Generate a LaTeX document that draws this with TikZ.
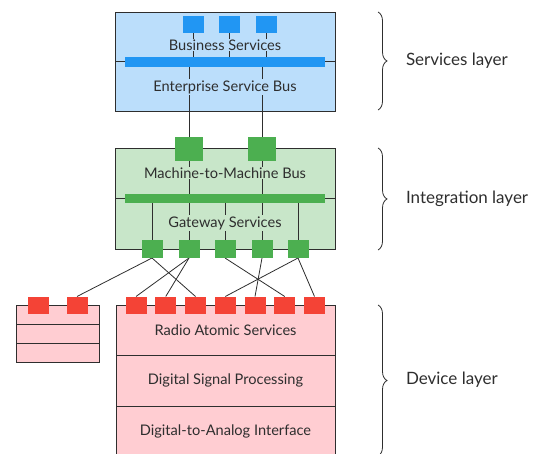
\documentclass[tikz,border=0pt]{standalone}
\usepackage{fontspec}
\setmainfont{Lato}
\usetikzlibrary{positioning,decorations.pathreplacing}
\pgfdeclarelayer{bg}
\pgfdeclarelayer{wires}
\pgfsetlayers{bg,wires,main}
\definecolor{svcfill}{HTML}{BBDEFB}
\definecolor{svcsq}{HTML}{2196F3}
\definecolor{intfill}{HTML}{C8E6C9}
\definecolor{intsq}{HTML}{4CAF50}
\definecolor{devfill}{HTML}{FFCDD2}
\definecolor{devsq}{HTML}{F44336}
\definecolor{ink}{HTML}{2E2E2E}
\tikzset{
    every node/.style={inner sep=0pt, outer sep=0pt, text=ink, font=\fontsize{14.6}{17}\selectfont},
    layer/.style={rectangle, draw=ink, line width=0.9pt},
    port/.style={rectangle, draw=none, minimum width=21pt, minimum height=17pt},
    bigport/.style={rectangle, draw=none, minimum width=28pt, minimum height=24pt},
    bus/.style={rectangle, draw=none, minimum width=200pt, minimum height=10pt},
    boxtext/.style={fill=#1, inner sep=1pt},
    wire/.style={draw=ink, line width=0.8pt},
    tier/.style={anchor=west, font=\fontsize{17}{20}\selectfont},
    curly/.style={draw=ink, line width=0.8pt, decorate, decoration={brace, amplitude=9pt}}
}
\begin{document}
\begin{tikzpicture}[x=1pt, y=-1pt]
  \useasboundingbox (0,0) rectangle (548,454);

  % the three layers
  \begin{pgfonlayer}{bg}
    \node (svc) [layer, fill=svcfill, minimum width=220pt, minimum height=99pt] at (225,61.5) {};
    \draw [wire] (svc.west) -- (svc.east);
    \node (int) [layer, fill=intfill, minimum width=220pt, minimum height=101pt] at (225,198.5) {};
    \draw [wire] (int.west) -- (int.east);
    \node (aux1) [layer, fill=devfill, minimum width=83pt, minimum height=19pt] at (57.5,314.5) {};
    \node (aux2) [layer, fill=devfill, minimum width=83pt, minimum height=19pt, below=0pt of aux1] {};
    \node (aux3) [layer, fill=devfill, minimum width=83pt, minimum height=19pt, below=0pt of aux2] {};
  \end{pgfonlayer}
  \node (ras) [layer, fill=devfill, minimum width=219pt, minimum height=50.5pt] at (225.5,330.25) {Radio Atomic Services};
  \node (dsp) [layer, fill=devfill, minimum width=219pt, minimum height=50.5pt, below=0pt of ras] {Digital Signal Processing};
  \node (dai) [layer, fill=devfill, minimum width=219pt, minimum height=50.5pt, below=0pt of dsp] {Digital-to-Analog Interface};

  % services
  \node (bsvc) [boxtext=svcfill] at (225,45) {Business Services};
  \node (esbt) [boxtext=svcfill] at (225,87) {Enterprise Service Bus};
  \node (esb) [bus, fill=svcsq] at (225,62) {};
  \foreach \x [count=\i] in {193,229.5,266}
    \node (bsq\i) [port, fill=svcsq] at (\x,24.5) {};

  % integration
  \node (m2mt) [boxtext=intfill] at (225,173) {Machine-to-Machine Bus};
  \node (gwt) [boxtext=intfill] at (225,223) {Gateway Services};
  \node (m2m) [bus, fill=intsq, minimum height=9pt] at (225,198.5) {};
  \node (msq1) [bigport, fill=intsq] at (189,149) {};
  \node (msq2) [bigport, fill=intsq] at (262,149) {};
  \foreach \x [count=\i] in {152,189,225,262,298}
    \node (gsq\i) [port, fill=intsq, minimum height=18pt] at (\x,249) {};

  % device
  \node (asq1) [port, fill=devsq] at (38.5,305) {};
  \node (asq2) [port, fill=devsq] at (77,305) {};
  \foreach \x [count=\i] in {136,165.75,195.5,225.25,255,284.75,314.5}
    \node (rsq\i) [port, fill=devsq] at (\x,305) {};

  % wires
  \begin{pgfonlayer}{wires}
    \foreach \i in {1,2,3}
      \draw [wire] (bsq\i) -- (bsq\i |- esb);
    \foreach \i in {1,2} {
      \draw [wire] (msq\i |- esb) -- (msq\i);
      \draw [wire] (msq\i) -- (msq\i |- m2m);
    }
    \foreach \i in {1,...,5}
      \draw [wire] (gsq\i |- m2m) -- (gsq\i);
    \draw [wire] (gsq1.south) -- (asq2.north);
    \draw [wire] (gsq1.south) -- (rsq3.north);
    \draw [wire] (gsq2.south) -- (rsq1.north);
    \draw [wire] (gsq2.south) -- (rsq2.north);
    \draw [wire] (gsq3.south) -- (rsq6.north);
    \draw [wire] (gsq4.south) -- (rsq5.north);
    \draw [wire] (gsq5.south) -- (rsq4.north);
    \draw [wire] (gsq5.south) -- (rsq7.north);
  \end{pgfonlayer}

  % layer braces
  \draw [curly] (378,12) -- (378,110);
  \draw [curly] (378,148) -- (378,250);
  \draw [curly] (378,305) -- (378,456);
  \node (svclab) [tier] at (406,61) {Services layer};
  \node (intlab) [tier] at (406,199) {Integration layer};
  \node (devlab) [tier] at (406,380) {Device layer};
\end{tikzpicture}
\end{document}
